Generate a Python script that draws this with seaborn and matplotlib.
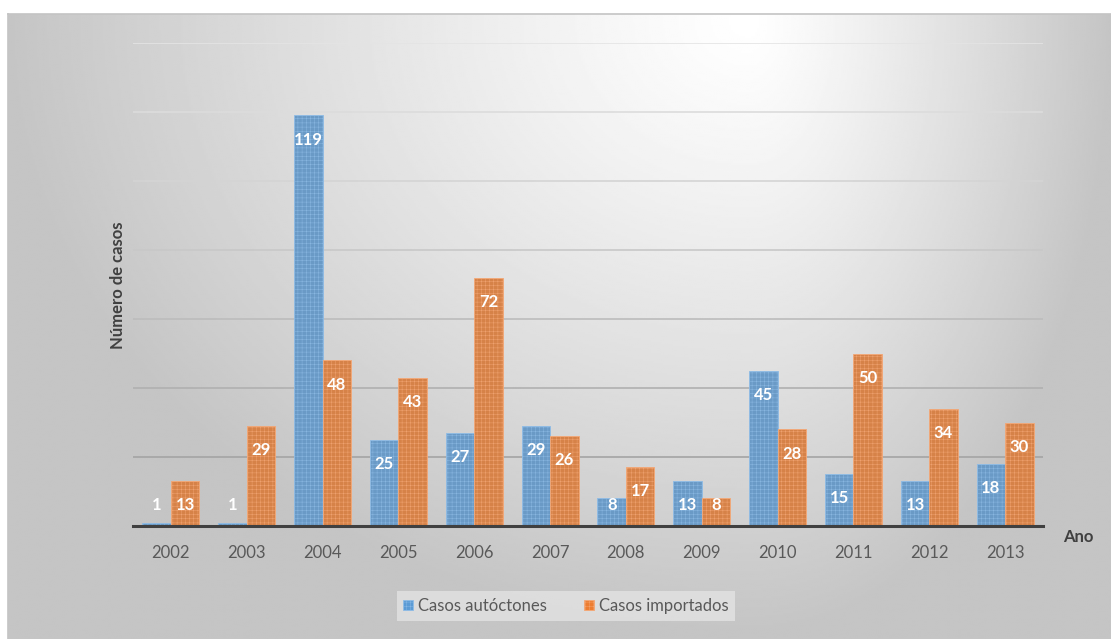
import numpy as np
import pandas as pd
import matplotlib
matplotlib.use("Agg")
import matplotlib.pyplot as plt
import seaborn as sns

# data
anos = ["2002", "2003", "2004", "2005", "2006", "2007",
        "2008", "2009", "2010", "2011", "2012", "2013"]
autoctones = [1, 1, 119, 25, 27, 29, 8, 13, 45, 15, 13, 18]
importados = [13, 29, 48, 43, 72, 26, 17, 8, 28, 50, 34, 30]
series = ["Casos autóctones", "Casos importados"]

df = pd.DataFrame({
    "Ano": anos * 2,
    "Casos": autoctones + importados,
    "Tipo": [series[0]] * len(anos) + [series[1]] * len(anos),
})

sns.set_style("white")
plt.rcParams["font.family"] = ["Lato", "DejaVu Sans"]
plt.rcParams["hatch.linewidth"] = 0.3

W, H = 1111, 639
fig = plt.figure(figsize=(W / 100, H / 100), dpi=100)

# radial-ish grey background of the chart area
bg = fig.add_axes([8 / W, 0, (W - 8) / W, (H - 14) / H])
ny, nx = 300, 550
xx, yy = np.meshgrid(np.linspace(8, W, nx), np.linspace(14, H, ny))
dx = xx - 750
dx = np.where(dx < 0, dx / 740, dx / 360)
dy = (yy - 20) / 610
d = np.clip(np.sqrt(dx ** 2 + dy ** 2), 0, 1)
shade = (255 - 58 * d ** 1.15) / 255
bg.imshow(shade, cmap="gray", vmin=0, vmax=1, aspect="auto",
          extent=[0, 1, 0, 1], origin="upper", interpolation="bilinear")
bg.set_xticks([])
bg.set_yticks([])
for s in ["right", "bottom"]:
    bg.spines[s].set_visible(False)
for s in ["top", "left"]:
    bg.spines[s].set_color("#c4c4c4")
    bg.spines[s].set_linewidth(1.2)

# plot area: x 133..1043 px, y 43..526 px (from top)
ax = fig.add_axes([133 / W, 113 / H, 910 / W, 483 / H])
ax.patch.set_visible(False)

blue = "#5B9BD5"
orange = "#ED7D31"
sns.barplot(data=df, x="Ano", y="Casos", hue="Tipo", palette=[blue, orange],
            width=0.75, gap=0, ax=ax, legend=False, zorder=3)

edge_cols = ["#8fbce6", "#f4a877"]
for cont, ec in zip(ax.containers, edge_cols):
    for p in cont:
        p.set_edgecolor(ec)
        p.set_linewidth(0.6)
        p.set_hatch("++++")

# data labels (white, bold, inside end)
for cont, vals in zip(ax.containers, [autoctones, importados]):
    for p, v in zip(cont, vals):
        xc = p.get_x() + p.get_width() / 2
        ax.text(xc, max(v - 7, 6.1), str(v), ha="center", va="center",
                color="white", fontsize=12, fontweight="bold", zorder=5)

ax.set_xlim(-0.5, len(anos) - 0.5)
ax.set_ylim(0, 140)
ax.set_yticks(np.arange(0, 141, 20))
ax.set_yticklabels([])
ax.yaxis.grid(True, linewidth=1.2, zorder=0)
ax.set_axisbelow(True)
grid_cols = ["#a0a0a0", "#a4a4a4", "#b0b0b0", "#bcbcbc", "#c8c8c8",
             "#d4d4d4", "#dcdcdc", "#e4e4e4"]
for gl, c in zip(ax.get_ygridlines(), grid_cols):
    gl.set_color(c)

for s in ["top", "right", "left"]:
    ax.spines[s].set_visible(False)
ax.spines["bottom"].set_color("#404040")
ax.spines["bottom"].set_linewidth(2.2)
ax.spines["bottom"].set_zorder(6)

ax.tick_params(axis="x", length=0, pad=14, labelsize=12, labelcolor="#595959")
ax.tick_params(axis="y", length=0)
ax.set_xlabel("")
ax.set_ylabel("")

fig.text(118 / W, 1 - 285 / H, "Número de casos", ha="center", va="center",
         rotation=90, fontsize=12, fontweight="bold", color="#404040")
fig.text(1078 / W, 1 - 537 / H, "Ano", ha="center", va="center",
         fontsize=12, fontweight="bold", color="#404040")

handles = [plt.Rectangle((0, 0), 1, 1, facecolor=c, edgecolor=e, hatch="++++",
                         linewidth=0.6)
           for c, e in zip([blue, orange], edge_cols)]
leg = fig.legend(handles, series, loc="center", ncol=2,
                 bbox_to_anchor=(566 / W, 1 - 606 / H),
                 frameon=True, facecolor="#e3e3e3", edgecolor="none",
                 fontsize=12, handlelength=0.6, handleheight=0.6,
                 handletextpad=0.3, columnspacing=2.2, borderpad=0.4,
                 borderaxespad=0, fancybox=False, labelcolor="#595959")
leg.get_frame().set_boxstyle("square", pad=0.0)

fig.savefig("out.png", dpi=100)
